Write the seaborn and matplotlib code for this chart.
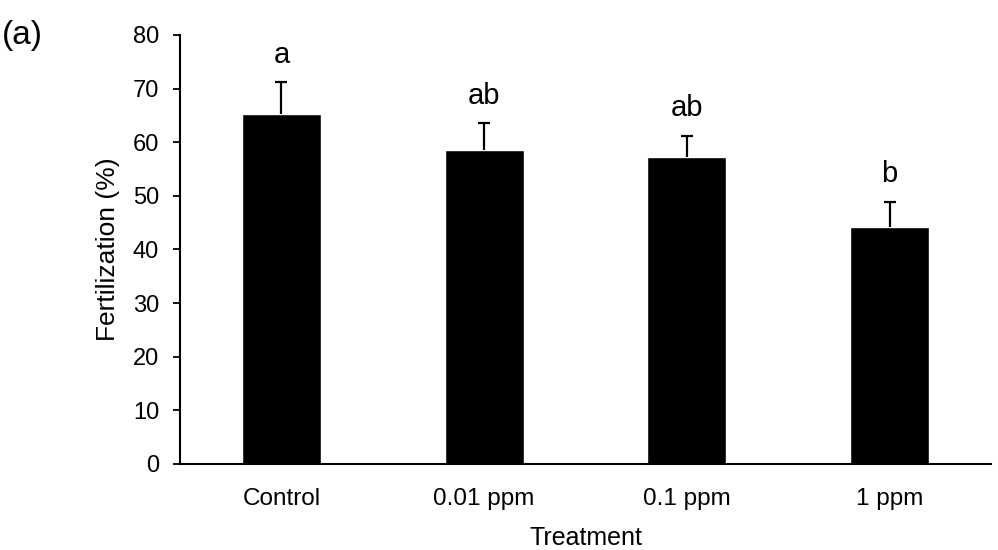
import numpy as np
import pandas as pd
import matplotlib
matplotlib.use("Agg")
import matplotlib.pyplot as plt
import seaborn as sns

# Dane
zabiegi = ['Control', '0.01 ppm', '0.1 ppm', '1 ppm']
zaplodnienie = [65.2, 58.5, 57.3, 44.2]
blad = [6.0, 5.0, 3.9, 4.7]
litery = ['a', 'ab', 'ab', 'b']

dane = pd.DataFrame({'Treatment': zabiegi, 'Fertilization': zaplodnienie})

sns.set_style('white')
plt.rcParams['font.family'] = ['Liberation Sans', 'DejaVu Sans']
plt.rcParams['text.color'] = 'black'
plt.rcParams['axes.labelcolor'] = 'black'
plt.rcParams['xtick.color'] = 'black'
plt.rcParams['ytick.color'] = 'black'

fig = plt.figure(figsize=(9.98, 5.5), dpi=100)
ax = fig.add_axes([0.1804, 0.1564, 0.8126, 0.78])

sns.barplot(data=dane, x='Treatment', y='Fertilization', color='black',
            width=0.39, saturation=1, ax=ax)

# Tylko gorne slupki bledu
x = np.arange(len(zabiegi))
eb = ax.errorbar(x, zaplodnienie, yerr=[np.zeros(len(blad)), blad], fmt='none',
                 ecolor='black', elinewidth=1.6, capsize=4, capthick=1.6)
eb[1][0].set_visible(False)

for i, lit in enumerate(litery):
    ax.text(i, zaplodnienie[i] + blad[i] + 3.6, lit, ha='center', va='baseline',
            fontsize=21)

ax.set_xlim(-0.5, 3.5)
ax.set_ylim(0, 80)
ax.set_yticks(range(0, 81, 10))
ax.tick_params(axis='y', direction='out', length=5, width=1.3, labelsize=17,
               left=True, pad=10)
ax.tick_params(axis='x', length=0, labelsize=17.5, pad=17)
for s in ['top', 'right']:
    ax.spines[s].set_visible(False)
for s in ['left', 'bottom']:
    ax.spines[s].set_color('black')
    ax.spines[s].set_linewidth(1.5)

ax.set_xlabel('Treatment', fontsize=18, labelpad=12)
ax.set_ylabel('Fertilization (%)', fontsize=19, labelpad=9)
fig.text(0.002, 0.935, '(a)', fontsize=24, ha='left', va='center')

fig.savefig('out.png', dpi=100)
